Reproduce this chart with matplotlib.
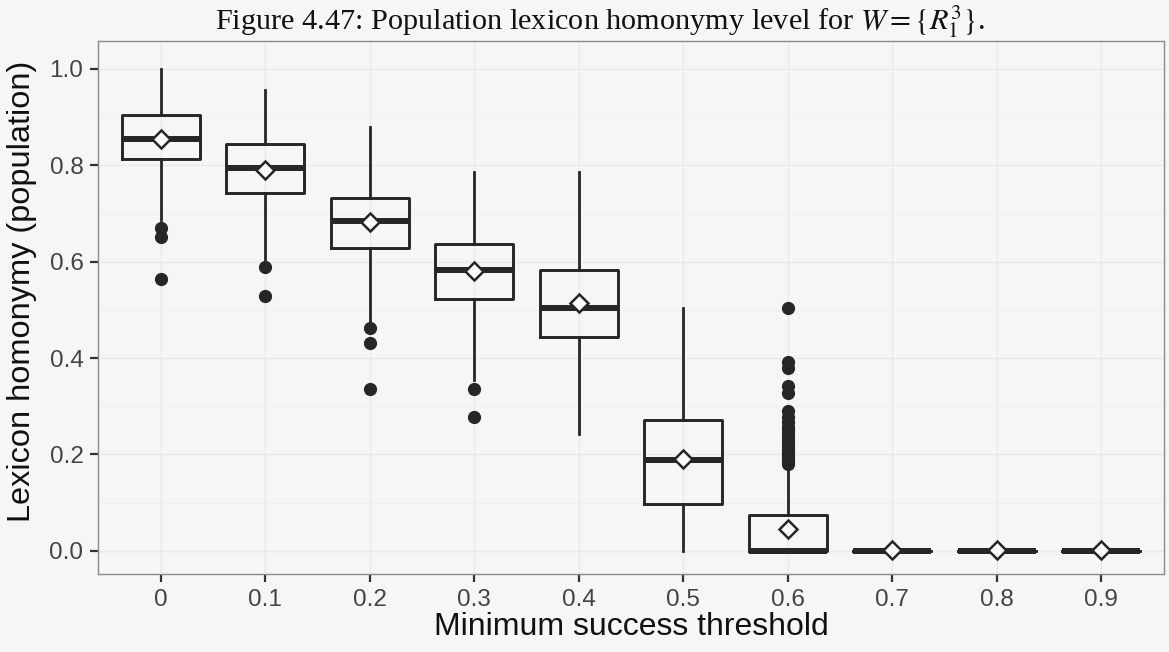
import matplotlib
matplotlib.use('Agg')
import matplotlib.pyplot as plt

# values
thresholds = ['0', '0.1', '0.2', '0.3', '0.4', '0.5', '0.6', '0.7', '0.8', '0.9']
whislo = [0.687, 0.605, 0.475, 0.355, 0.243, 0.0, 0.0, 0.0, 0.0, 0.0]
q1 = [0.813, 0.742, 0.629, 0.523, 0.443, 0.097, 0.0, 0.0, 0.0, 0.0]
med = [0.854, 0.795, 0.685, 0.583, 0.505, 0.189, 0.0, 0.0, 0.0, 0.0]
q3 = [0.905, 0.844, 0.733, 0.637, 0.583, 0.272, 0.075, 0.0, 0.0, 0.0]
whishi = [1.0, 0.956, 0.879, 0.787, 0.787, 0.504, 0.172, 0.0, 0.0, 0.0]
means = [0.855, 0.791, 0.682, 0.580, 0.515, 0.191, 0.045, 0.002, 0.002, 0.002]
fliers = [
    [0.670, 0.651, 0.564],
    [0.589, 0.528],
    [0.462, 0.432, 0.336],
    [0.335, 0.277],
    [],
    [],
    [0.505, 0.392, 0.380, 0.343, 0.327, 0.290, 0.278, 0.268, 0.258, 0.250,
     0.242, 0.235, 0.228, 0.222, 0.216, 0.210, 0.205, 0.200, 0.195, 0.190,
     0.185, 0.180],
    [],
    [],
    [],
]

plt.rcParams['font.family'] = ['Liberation Sans', 'DejaVu Sans']
plt.rcParams['mathtext.fontset'] = 'stix'

bg = '#f6f6f6'
ink = '#262626'

fig = plt.figure(figsize=(11.69, 6.52), dpi=100, facecolor=bg)
ax = fig.add_axes([98 / 1169, 1 - 574 / 652, (1164 - 98) / 1169, (574 - 41) / 652])
ax.set_facecolor(bg)

stats = []
for i in range(len(thresholds)):
    stats.append({'whislo': whislo[i], 'q1': q1[i], 'med': med[i], 'q3': q3[i],
                  'whishi': whishi[i], 'mean': means[i], 'fliers': fliers[i],
                  'label': thresholds[i]})

pos = list(range(len(thresholds)))
ax.bxp(stats, positions=pos, widths=0.75, showmeans=True, showcaps=False,
       boxprops=dict(color=ink, linewidth=2.1),
       whiskerprops=dict(color=ink, linewidth=2.0),
       medianprops=dict(color=ink, linewidth=4.3, solid_capstyle='butt'),
       flierprops=dict(marker='o', markerfacecolor=ink, markeredgecolor=ink,
                       markersize=8.5),
       meanprops=dict(marker='D', markerfacecolor='white', markeredgecolor=ink,
                      markeredgewidth=1.8, markersize=9.5),
       zorder=3)

ax.set_xlim(-0.6, 9.6)
ax.set_ylim(-0.048, 1.058)
ax.set_yticks([0.0, 0.2, 0.4, 0.6, 0.8, 1.0])
ax.set_yticklabels(['0.0', '0.2', '0.4', '0.6', '0.8', '1.0'])
ax.set_yticks([0.1, 0.3, 0.5, 0.7, 0.9], minor=True)
ax.set_xticks(pos)
ax.set_xticklabels(thresholds)

ax.grid(True, which='major', color='#e9e9e9', linewidth=1.0, zorder=0)
ax.grid(True, which='minor', axis='y', color='#efefef', linewidth=0.8, zorder=0)
ax.set_axisbelow(True)

ax.tick_params(axis='both', which='major', length=5.5, width=1.6, color='#333333',
               labelsize=17.5, labelcolor='#444444', pad=5)
ax.tick_params(axis='y', which='minor', length=0)
for s in ax.spines.values():
    s.set_color('#8a8a8a')
    s.set_linewidth(1.0)

ax.set_xlabel('Minimum success threshold', fontsize=23, color='#111111', labelpad=1)
ax.set_ylabel('Lexicon homonymy (population)', fontsize=23.4, color='#111111')
ax.yaxis.set_label_coords(-0.057, 0.531)

fig.text(600 / 1169, 1 - 22 / 652,
         r'Figure 4.47: Population lexicon homonymy level for $W = \{R_1^3\}$.',
         family=['Liberation Serif', 'DejaVu Serif'], fontsize=21.8,
         ha='center', va='center', color='#111111')

fig.savefig('out.png', dpi=100, facecolor=bg)
